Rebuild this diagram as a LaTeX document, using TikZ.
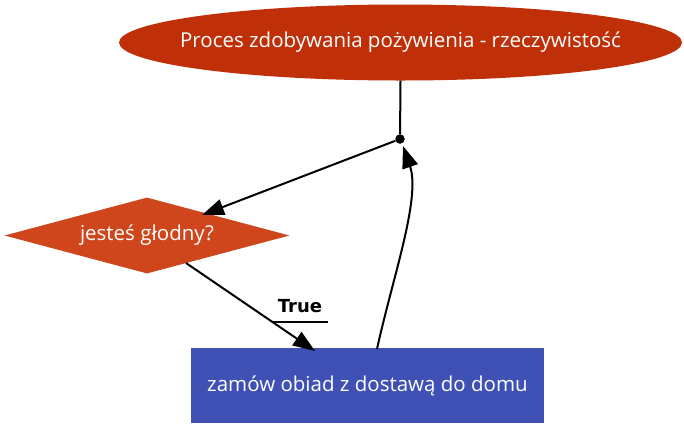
\documentclass[tikz,border=0pt]{standalone}
\usepackage{fontspec}
\setmainfont{Open Sans}
\newfontfamily\truefont{DejaVu Sans}
\usetikzlibrary{shapes.geometric,arrows.meta}
\definecolor{ellc}{HTML}{BF2F08}
\definecolor{diac}{HTML}{D0461C}
\definecolor{boxc}{HTML}{3F51B5}
\tikzset{
  lbl/.style={text=white,font=\fontsize{20.5}{24}\selectfont},
  conn/.style={black,line width=2pt,-{Triangle[length=22pt,width=16pt]}},
}
\begin{document}
\begin{tikzpicture}[x=1pt,y=-1pt]
\useasboundingbox (0,0) rectangle (684,432);
\node[ellipse,fill=ellc,minimum width=563pt,minimum height=76pt,inner sep=0pt,label={[lbl]center:Proces zdobywania pożywienia - rzeczywistość}] (start) at (400.5,42.5) {};
\node[circle,fill=black,inner sep=0pt,minimum size=9.5pt] (dot) at (400,139) {};
\node[diamond,aspect=3.75,fill=diac,minimum width=285pt,minimum height=76pt,inner sep=0pt,lbl] (q) at (147,235.5) {jesteś głodny?};
\node[rectangle,fill=boxc,minimum width=353pt,minimum height=75pt,inner sep=0pt,lbl] (order) at (367.5,385.5) {zamów obiad z dostawą do domu};
\node[font=\truefont\bfseries\fontsize{18}{20}\selectfont,inner sep=0pt] (tl) at (300,306) {True};
\coordinate (ul1) at (272,322);
\coordinate (ul2) at (328,322);
\coordinate (qin) at (202,215);
\coordinate (qout) at (186,263);
\coordinate (oin) at (315,351);
\coordinate (oout) at (377,349);
\coordinate (dotin) at (403,146);
\draw[black,line width=2pt] (start.south) -- (dot);
\draw[conn] (dot) -- (qin);
\draw[conn] (qout) -- (oin);
\draw[black,line width=1.6pt] (ul1) -- (ul2);
\draw[conn] (oout) .. controls (392,280) and (421,198) .. (dotin);
\end{tikzpicture}
\end{document}
